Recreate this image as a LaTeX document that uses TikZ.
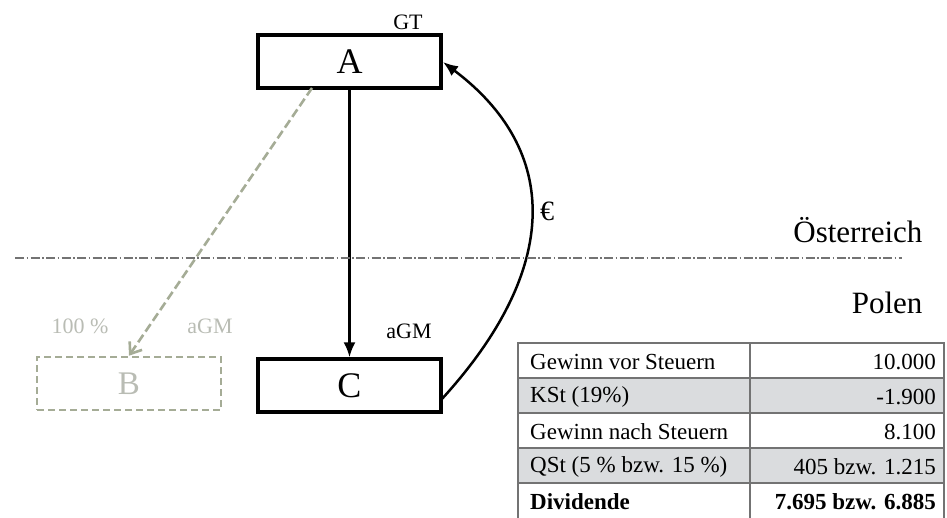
\documentclass[tikz,border=0pt]{standalone}
\usepackage{fontspec}
\setmainfont{Liberation Serif}
\usetikzlibrary{arrows.meta}
\definecolor{ghost}{RGB}{185,188,180}
\definecolor{ghostline}{RGB}{165,172,150}
\definecolor{rowgray}{RGB}{218,220,222}
\definecolor{gridgray}{RGB}{115,115,115}
\begin{document}
\begin{tikzpicture}[x=1pt,y=-1pt,
  entity/.style={draw=black,line width=3.4pt,minimum width=183pt,minimum height=53pt,inner sep=0pt,font=\fontsize{36}{38}\selectfont},
  ghostbox/.style={draw=ghostline,line width=2.6pt,dashed,dash pattern=on 7pt off 4pt,minimum width=184pt,minimum height=53pt,inner sep=0pt,text=ghost,font=\fontsize{33}{35}\selectfont},
  small/.style={font=\fontsize{22}{24}\selectfont},
  country/.style={font=\fontsize{31}{33}\selectfont,anchor=east},
  flow/.style={line width=2.5pt,-{Latex[length=15pt,width=12pt]}},
  cell/.style={font=\fontsize{23}{25}\selectfont,inner sep=0pt}
]
\useasboundingbox (0,0) rectangle (947,518);

% companies
\node[entity] (A) at (349.5,61.5) {A};
\node[entity] (C) at (349.5,385.5) {C};
\node[ghostbox] (B) at (129,383.5) {B};

% labels
\node[small] (gt) at (408,22) {GT};
\node[small] (agmc) at (409,331) {aGM};
\node[small,text=ghost] (pct) at (80,326) {100 \%};
\node[small,text=ghost] (agmb) at (210,326) {aGM};

% flows
\draw[flow] (A.south) -- (C.north);
\draw[line width=2.6pt,ghostline,dashed,dash pattern=on 9pt off 4pt,-{Straight Barb[length=10pt,width=15pt]}]
  (312,88) -- (B.north);
\coordinate (cout) at (441,400);
\coordinate (ain) at (443,62);
\draw[flow] (cout) .. controls (562,268) and (560,150) .. (ain);
\node[font=\fontsize{28}{30}\selectfont] (eur) at (547,211) {€};

% border
\draw[gridgray,line width=1.1pt,dash pattern=on 9pt off 2.5pt on 1.5pt off 2.5pt] (15,258) -- (902,258);
\node[country] (at) at (926,230) {Österreich};
\node[country] (pl) at (926,303) {Polen};

% table
\fill[rowgray] (518,378) rectangle (944,413);
\fill[rowgray] (518,448) rectangle (944,483);
\draw[gridgray,line width=1.6pt]
  (518,518) -- (518,343) -- (944,343) -- (944,518)
  (750,343) -- (750,518)
  (518,378) -- (944,378)
  (518,413) -- (944,413)
  (518,448) -- (944,448)
  (518,483) -- (944,483);
\node[cell,anchor=west] (l1) at (530,362) {Gewinn vor Steuern};
\node[cell,anchor=west] (l2) at (530,397) {KSt (19\%)};
\node[cell,anchor=west] (l3) at (530,432) {Gewinn nach Steuern};
\node[cell,anchor=west] (l4) at (530,467) {QSt (5 \% bzw. 15 \%)};
\node[cell,anchor=west] (l5) at (530,502) {\bfseries Dividende};
\node[cell,anchor=east] (r1) at (936,362) {10.000};
\node[cell,anchor=east] (r2) at (936,397) {-1.900};
\node[cell,anchor=east] (r3) at (936,432) {8.100};
\node[cell,anchor=east] (r4) at (936,467) {405 bzw. 1.215};
\node[cell,anchor=east] (r5) at (936,502) {\bfseries 7.695 bzw. 6.885};
\end{tikzpicture}
\end{document}
